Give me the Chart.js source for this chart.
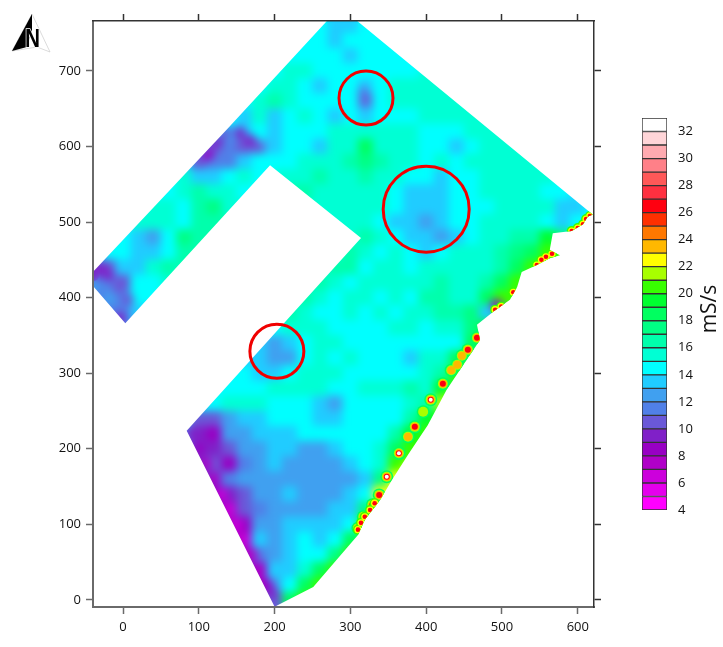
<!DOCTYPE html>
<html>
<head>
<meta charset="utf-8">
<script src="https://cdn.jsdelivr.net/npm/chart.js@4/dist/chart.umd.min.js"></script>
<style>
  html, body { margin: 0; padding: 0; background: #fff; }
  #wrap { position: relative; width: 723px; height: 647px; overflow: hidden; }
  canvas { position: absolute; }
  #north { position: absolute; left: 0; top: 0; }
</style>
</head>
<body>
<div id="wrap">
  <canvas id="map" width="723" height="647" style="left:0;top:0"></canvas>
  <canvas id="scale" width="93" height="440" style="left:630px;top:100px"></canvas>
  <svg id="north" width="70" height="60">
    <polygon points="32,14 50,52 37,47 12,51" fill="#fff" stroke="#ccc" stroke-width="0.7"/>
    <polygon points="32,14 12,51 27,47 32,30" fill="#000"/>
    <text x="32.5" y="47" text-anchor="middle" font-family="Liberation Sans" font-weight="bold" font-size="25" textLength="15" lengthAdjust="spacingAndGlyphs" fill="#000" stroke="#fff" stroke-width="1.5" paint-order="stroke">N</text>
  </svg>
</div>
<script>
// ---- axis ticks ----
const xTickStep = 100;
const yTickStep = 100;
const scaleTickStep = 2;

// ---- colour levels, 4 to 32 mS/s ----
const levels = [4,5,6,7,8,9,10,11,12,13,14,15,16,17,18,19,20,21,22,23,24,25,26,27,28,29,30,31,32];
const levelColors = ["#ff00ff","#e400ec","#cc00dc","#b000c8","#9800c4","#8020c8","#6a58d8","#5080e8","#40a0f0","#20ccff",
  "#00ffff","#00ffd4","#00ffac","#00ff84","#00ff60","#00ff30","#38ff00","#a8ff00","#ffff00","#ffb800",
  "#ff7800","#ff3000","#ff0010","#ff3040","#ff5858","#ff8088","#ffaab0","#ffd5d8","#ffffff"];

// ---- survey grid (20 m spacing) ----
const rowY = [760,740,720,700,680,660,640,620,600,580,560,560,540,540,520,520,500,500,480,480,460,460,440,440,420,420,400,400,380,380,360,360,340,320,300,280,260,240,220,200,180,160,140,120,100,80,60,40,20,0];
const rowStartX = [260,240,220,200,180,160,140,120,120,80,60,220,40,240,20,260,0,280,-20,300,-20,280,-40,260,-40,240,-40,220,-20,200,0,180,180,160,140,120,100,80,80,80,100,100,120,120,140,140,160,160,180,200];
const rowValues = [
  [14,13,13,14],
  [14,14,13,14,14,14],
  [14,14,14,14,13,14,14,14],
  [14,15,15,14,14,14,14,14,14,14],
  [14,15,15,14,13,14,14,13,14,15,15,15],
  [14,15,16,15,14,14,14,14,11,14,15,15,15,15,15],
  [14,13,15,13,14,15,14,13,14,13,14,14,14,15,15,15,15],
  [13,13,13,14,13,14,14,14,15,15,15,15,15,15,14,14,14,15,15],
  [10,11,10,12,13,14,14,13,15,15,18,15,15,15,14,14,13,14,15,15,15],
  [13,10,11,11,13,14,14,14,15,15,15,16,17,16,15,15,14,15,14,15,15,15,15,15],
  [14,15,13,13,14,15,14],
  [15,15,16,15,15,16,15,15,14,14,13,14,14,15,15,15,15,15],
  [14,14,15,16,15,15,14],
  [16,15,15,15,15,15,14,13,13,13,14,14,15,15,15,15,14,14],
  [14,15,15,14,16,17,15],
  [15,15,15,15,15,14,13,13,13,14,14,14,15,15,15,15,13,13,14],
  [14,15,15,15,14,16,16],
  [15,15,15,14,13,13,12,13,14,14,15,15,15,15,14,13,14,14],
  [14,14,13,12,14,17,16],
  [15,16,15,14,13,13,12,13,14,15,15,16,16,19,17,17],
  [14,14,13,13,14,16,16],
  [15,16,15,14,15,14,13,14,15,15,15,16,17,18,20],
  [11,10,13,13,15,16],
  [15,16,16,14,15,15,14,15,15,15,15,15,16,18,20],
  [12,11,10,14,14,15],
  [15,16,15,14,15,15,15,15,15,16,15,15,16,18,20],
  [12,12,11,14,14],
  [15,16,15,14,15,15,14,15,14,16,16,15,15,18,20],
  [11,11,13],
  [15,16,15,14,14,15,14,15,14,15,15,16,16,17,13],
  [11,12],
  [14,14,15,15,15,14,14,14,14,15,15,14,15,15,17,19],
  [13,12,13,14,15,15,14,14,14,14,14,14,14,14,18],
  [13,13,12,12,14,15,14,15,14,14,14,13,15,15,18],
  [14,14,13,13,14,15,15,15,14,14,14,14,14,15,16,20],
  [14,14,14,14,15,15,15,15,14,14,15,15,15,16,15,19],
  [14,14,15,15,15,14,14,14,13,12,14,14,14,14,15,16,21],
  [12,10,10,12,13,13,14,14,14,13,13,14,14,14,14,16,19],
  [11,9,8,12,12,13,13,13,14,14,14,14,14,14,16,19,20],
  [10,9,9,10,12,12,13,13,12,12,13,14,14,15,18,20],
  [9,10,8,11,12,13,12,12,12,12,13,14,15,20],
  [9,9,11,12,12,12,12,12,12,12,12,13,17,22],
  [8,9,10,12,12,13,12,12,12,13,14,22],
  [8,7,10,11,12,12,12,12,13,13,17],
  [7,8,12,12,13,13,13,13,14,20],
  [7,7,13,12,13,14,13,14,18],
  [7,11,12,13,14,14,17,20],
  [7,8,13,13,15,18,20],
  [7,12,14,18,20],
  [10,18,20]
];
const gridStep = 20;

// ---- low readings along the field edges and in the circled spots ----
const lowX = [90,100,110,120,130,140,150,160,170,180,190,196,154,168,178,112,124,135,-30,-20,-7,7,-4,-30,-39,319,317,493];
const lowY = [220,200,180,160,140,120,100,80,60,40,20,10,618,608,598,589,606,618,439,430,413,397,373,403,430,665,672,390];
const lowV = [9,8,7,7,6,6,6,6,7,7,8,9,9,9,10,8,9,10,9,9,10,10,9,11,9,10,11,8];

// ---- hot spots along the south east edge ----
const peakX = [467,455,447,441,433,422,406,396,385,376,364,348,338,329,317,310];
const peakY = [347,331,323,311,304,286,265,249,229,216,194,163,139,126,110,95];
const peakV = [30,27,24,25,23,27,32,22,28,24,32,32,26,26,26,32];
const ringLevels = [18,21,23,26,32];

// ---- red rim of the uncovered patches ----
const rimX = [592,600,607,611,616,546,552,558,566,515,491,499,332,326,319,314,310];
const rimY = [488,492,497,504,508,443,450,454,458,407,384,388,128,119,110,102,93];
const rimLevels = [20,22,26];

// ---- field outline ----
const outlineX = [269,138.5,-41,-41,3,194,314,84,200,251,295.5,310,319,339,355,376,402,427,471,467,488,510.5,520,526,546,563,576.5,563,567,592,607,613,620,616,309];
const outlineY = [766,624,432.5,417,366,575,479,224,-9,17,69,86,106,132,159,192,231,278,344,364,381,397,414,434,443,452,456,463,485,488,497,507,510,513,766];

// ---- circled areas ----
const ringX = [320.6,400,203];
const ringY = [664,517,329];

const gridCells = [];
rowY.forEach((y, r) => {
  rowValues[r].forEach((v, i) => {
    gridCells.push({ x: rowStartX[r] + i * gridStep, y, v });
  });
});

function colorOf(v) {
  return levelColors[levels.indexOf(v)];
}

const toPoints = (xs, ys, vs) => xs.map((x, i) => ({ x, y: ys[i], v: vs[i] }));

function markDataset(data, radius, order, extra) {
  return {
    data,
    clipToField: true,
    order,
    pointStyle: "circle",
    pointRadius: radius,
    pointHoverRadius: radius,
    pointBorderWidth: 0,
    pointBackgroundColor: c => colorOf(c.raw.v),
    ...extra
  };
}

const ringRadii = [6.5, 5, 4, 3, 2];
const peakRings = ringLevels.map((level, i) => {
  const pts = peakX
    .map((x, p) => ({ x, y: peakY[p], v: level, peak: peakV[p] }))
    .filter(p => p.peak >= level);
  return markDataset(pts, ringRadii[i], 4 - i * 0.1);
});

const rimRadii = [5, 3.6, 2.3];
const rimBands = rimLevels.map((level, i) =>
  markDataset(rimX.map((x, p) => ({ x, y: rimY[p], v: level })), rimRadii[i], 3 - i * 0.1)
);

function tracePath(chart) {
  const { ctx, scales } = chart;
  outlineX.forEach((x, i) => {
    const px = scales.x.getPixelForValue(x);
    const py = scales.y.getPixelForValue(outlineY[i]);
    if (i === 0) ctx.moveTo(px, py);
    else ctx.lineTo(px, py);
  });
  ctx.closePath();
}

// cells and lows are painted plain, softened together, then trimmed to the field
const fieldClip = {
  id: "fieldClip",
  beforeDatasetDraw(chart, args) {
    const ds = args.meta._dataset;
    if (!ds.clipToField || ds.softPass) return;
    const { ctx } = chart;
    ctx.save();
    ctx.beginPath();
    tracePath(chart);
    ctx.clip();
  },
  afterDatasetDraw(chart, args) {
    const ds = args.meta._dataset;
    const { ctx, chartArea: a } = chart;
    if (ds.clipToField && !ds.softPass) ctx.restore();
    if (!ds.softenAfter) return;
    ctx.save();
    ctx.beginPath();
    ctx.rect(a.left, a.top, a.right - a.left, a.bottom - a.top);
    ctx.clip();
    ctx.filter = "blur(4px)";
    ctx.drawImage(chart.canvas, 0, 0);
    ctx.restore();
    ctx.save();
    ctx.beginPath();
    ctx.rect(a.left, a.top, a.right - a.left, a.bottom - a.top);
    tracePath(chart);
    ctx.fillStyle = "#fff";
    ctx.fill("evenodd");
    ctx.restore();
  }
};

const tickFont = { family: "Open Sans", size: 13 };

function frameAxis(position, size, showLabels, borderColor, borderWidth, step, min, max) {
  return {
    type: "linear",
    position,
    min,
    max,
    afterFit(scale) {
      if (position === "top" || position === "bottom") scale.height = size;
      else scale.width = size;
      scale.paddingTop = scale.paddingBottom = scale.paddingLeft = scale.paddingRight = 0;
    },
    border: { color: borderColor, width: borderWidth, z: 1 },
    grid: { drawOnChartArea: false, drawTicks: true, tickLength: 7, color: borderColor, tickWidth: 1.5, z: 1 },
    ticks: {
      z: 1,
      stepSize: step,
      includeBounds: false,
      autoSkip: false,
      maxRotation: 0,
      color: "#111",
      font: tickFont,
      padding: 5,
      callback: v => (showLabels ? String(v) : "")
    }
  };
}

const X_MIN = -39.6, X_MAX = 621.4, Y_MIN = -9.3, Y_MAX = 765.9;

new Chart(document.getElementById("map"), {
  type: "scatter",
  data: {
    datasets: [
      // same cells drawn larger underneath, so the field edge has no gaps
      markDataset(gridCells, 24, 7, { pointStyle: "rect", softPass: true }),
      markDataset(gridCells, 11, 6, { pointStyle: "rect", softPass: true }),
      markDataset(toPoints(lowX, lowY, lowV), 6, 5, { softPass: true, softenAfter: true }),
      ...peakRings,
      ...rimBands,
      {
        data: ringX.map((x, i) => ({ x, y: ringY[i] })),
        order: 1,
        pointStyle: "circle",
        pointRadius: [27, 43, 27],
        pointHoverRadius: [27, 43, 27],
        pointBackgroundColor: "rgba(0,0,0,0)",
        pointBorderColor: "#f00000",
        pointBorderWidth: 3
      }
    ]
  },
  options: {
    responsive: false,
    animation: false,
    devicePixelRatio: 1,
    events: [],
    layout: { padding: 0, autoPadding: false },
    plugins: { legend: { display: false }, tooltip: { enabled: false } },
    scales: {
      x: frameAxis("bottom", 40, true, "#6a6a6a", 2, xTickStep, X_MIN, X_MAX),
      y: frameAxis("left", 93, true, "#6a6a6a", 2, yTickStep, Y_MIN, Y_MAX),
      xTop: frameAxis("top", 21, false, "#333", 1.5, xTickStep, X_MIN, X_MAX),
      yRight: frameAxis("right", 129, false, "#333", 1.5, yTickStep, Y_MIN, Y_MAX)
    }
  },
  plugins: [fieldClip]
});

// ---- colour scale on the right ----
const unitLabel = {
  id: "unitLabel",
  afterDraw(chart) {
    const { ctx } = chart;
    ctx.save();
    ctx.translate(80, 209);
    ctx.rotate(-Math.PI / 2);
    ctx.font = '21px "Open Sans"';
    ctx.fillStyle = "#111";
    ctx.textAlign = "center";
    ctx.textBaseline = "middle";
    ctx.fillText("mS/s", 0, 0);
    ctx.restore();
  }
};

new Chart(document.getElementById("scale"), {
  type: "bar",
  data: {
    labels: ["mS/s"],
    datasets: levels.map(v => ({
      data: [[v, v + 1]],
      grouped: false,
      backgroundColor: colorOf(v),
      borderColor: "#333",
      borderWidth: 1,
      borderSkipped: false,
      barPercentage: 1,
      categoryPercentage: 1
    }))
  },
  options: {
    responsive: false,
    animation: false,
    devicePixelRatio: 1,
    events: [],
    layout: { padding: { left: 12, top: 18, bottom: 30 } },
    plugins: { legend: { display: false }, tooltip: { enabled: false } },
    scales: {
      x: { display: false },
      y: {
        position: "right",
        min: 4,
        max: 33,
        afterFit(scale) { scale.width = 56; },
        border: { display: false },
        grid: { display: false },
        ticks: {
          stepSize: scaleTickStep,
          includeBounds: false,
          color: "#111",
          font: tickFont,
          padding: 3,
          autoSkip: false
        }
      }
    }
  },
  plugins: [unitLabel]
});
</script>
</body>
</html>
